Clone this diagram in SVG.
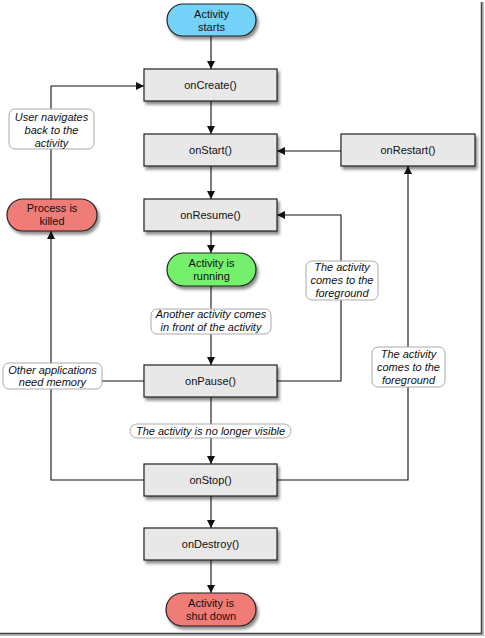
<svg xmlns="http://www.w3.org/2000/svg" width="485" height="638" viewBox="0 0 485 638">
<defs>
<filter id="sh" x="-20%" y="-30%" width="150%" height="180%">
<feDropShadow dx="2" dy="3" stdDeviation="1.6" flood-color="#000" flood-opacity="0.45"/>
</filter>
<marker id="ar" viewBox="0 0 10 10" refX="10" refY="5" markerWidth="8" markerHeight="8" markerUnits="userSpaceOnUse" orient="auto">
<path d="M0,0 L10,5 L0,10 Z" fill="#111"/>
</marker>
</defs>
<style>
.box{fill:#e8e8e8;stroke:#222;stroke-width:1.2;filter:url(#sh)}
.pill{stroke:#222;stroke-width:1.2;filter:url(#sh)}
.blue{fill:#74d2f8}
.green{fill:#74f06c}
.red{fill:#ef7b77}
.lbl{fill:#fff;stroke:#aaa;stroke-width:1}
.t{font-family:"Liberation Sans",Arial,sans-serif;font-size:11px;fill:#111;text-anchor:middle}
.i{font-family:"Liberation Sans",Arial,sans-serif;font-size:11px;font-style:italic;fill:#111;text-anchor:middle}
.c{fill:none;stroke:#111;stroke-width:1.1}
</style>
<rect width="485" height="638" fill="#fff"/>
<g id="frame">
<path d="M482.5,2 V634.5 H0" fill="none" stroke="#bbb" stroke-width="3"/>
<path d="M481.5,2 V633.5 H0" fill="none" stroke="#444" stroke-width="1.5"/>
</g>
<g id="connectors">
<path class="c" d="M211,36 V69" marker-end="url(#ar)"/>
<path class="c" d="M211,101 V134" marker-end="url(#ar)"/>
<path class="c" d="M211,166 V199" marker-end="url(#ar)"/>
<path class="c" d="M211,231 V253" marker-end="url(#ar)"/>
<path class="c" d="M211,286 V365" marker-end="url(#ar)"/>
<path class="c" d="M211,397 V464" marker-end="url(#ar)"/>
<path class="c" d="M211,496 V528" marker-end="url(#ar)"/>
<path class="c" d="M211,560 V593" marker-end="url(#ar)"/>
<path class="c" d="M341,151 H277" marker-end="url(#ar)"/>
<path class="c" d="M277,381 H341 V215 H277" marker-end="url(#ar)"/>
<path class="c" d="M277,480 H408 V166" marker-end="url(#ar)"/>
<path class="c" d="M144,480 H51 V231" marker-end="url(#ar)"/>
<path class="c" d="M144,381 H51"/>
<path class="c" d="M51,199 V86 H144" marker-end="url(#ar)"/>
</g>
<g id="start"><rect class="pill blue" x="167" y="4" width="89" height="32" rx="16"/><text class="t" x="211.5" y="18">Activity</text><text class="t" x="211.5" y="31">starts</text></g>
<g id="onCreate"><rect class="box" x="144" y="69" width="133" height="32"/><text class="t" x="210.5" y="89">onCreate()</text></g>
<g id="onStart"><rect class="box" x="144" y="134" width="133" height="32"/><text class="t" x="210.5" y="154">onStart()</text></g>
<g id="onResume"><rect class="box" x="144" y="199" width="133" height="32"/><text class="t" x="210.5" y="219">onResume()</text></g>
<g id="onRestart"><rect class="box" x="341" y="134" width="134" height="32"/><text class="t" x="408" y="154">onRestart()</text></g>
<g id="killed"><rect class="pill red" x="7" y="199" width="90" height="32" rx="16"/><text class="t" x="52" y="212">Process is</text><text class="t" x="52" y="225">killed</text></g>
<g id="running"><rect class="pill green" x="167" y="253" width="89" height="33" rx="16.5"/><text class="t" x="211.5" y="267">Activity is</text><text class="t" x="211.5" y="280">running</text></g>
<g id="onPause"><rect class="box" x="144" y="365" width="133" height="32"/><text class="t" x="210.5" y="385">onPause()</text></g>
<g id="onStop"><rect class="box" x="144" y="464" width="133" height="32"/><text class="t" x="210.5" y="484">onStop()</text></g>
<g id="onDestroy"><rect class="box" x="144" y="528" width="133" height="32"/><text class="t" x="210.5" y="548">onDestroy()</text></g>
<g id="shutdown"><rect class="pill red" x="166" y="593" width="90" height="33" rx="16.5"/><text class="t" x="211" y="607">Activity is</text><text class="t" x="211" y="620">shut down</text></g>
<g id="lbl-navigates"><rect class="lbl" x="9" y="109" width="85" height="40" rx="6"/><text class="i" x="51.5" y="121">User navigates</text><text class="i" x="51.5" y="134">back to the</text><text class="i" x="51.5" y="147">activity</text></g>
<g id="lbl-foreground1"><rect class="lbl" x="306" y="261" width="72" height="39" rx="6"/><text class="i" x="342" y="271">The activity</text><text class="i" x="342" y="284">comes to the</text><text class="i" x="342" y="297">foreground</text></g>
<g id="lbl-another"><rect class="lbl" x="151" y="309" width="120" height="25" rx="6"/><text class="i" x="211" y="318">Another activity comes</text><text class="i" x="211" y="331">in front of the activity</text></g>
<g id="lbl-memory"><rect class="lbl" x="3" y="363" width="99" height="26" rx="6"/><text class="i" x="52.5" y="374">Other applications</text><text class="i" x="52.5" y="386">need memory</text></g>
<g id="lbl-foreground2"><rect class="lbl" x="372" y="347" width="73" height="40" rx="6"/><text class="i" x="408.5" y="358">The activity</text><text class="i" x="408.5" y="371">comes to the</text><text class="i" x="408.5" y="384">foreground</text></g>
<g id="lbl-visible"><rect class="lbl" x="130" y="424" width="161" height="14" rx="7"/><text class="i" x="210.5" y="435">The activity is no longer visible</text></g>
</svg>
